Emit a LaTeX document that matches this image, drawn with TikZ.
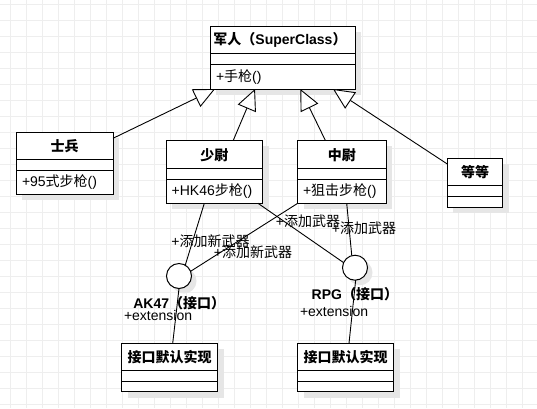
\documentclass[tikz,border=0pt]{standalone}
\usepackage{fontspec}
\setmainfont{Liberation Sans}
\newfontfamily\cjk{Noto Sans CJK SC}
\usetikzlibrary{arrows.meta,calc}
\definecolor{gridc}{HTML}{EEEEEE}
\definecolor{shadc}{HTML}{E6E6E6}
\tikzset{
  cls/.style={draw, fill=white, line width=1pt, inner sep=0pt, outer sep=0pt},
  boxline/.style={line width=1pt},
  inh/.style={line width=0.9pt, -{Triangle[length=21pt,width=19.5pt,fill=white,line width=0.9pt]}},
  conn/.style={line width=0.9pt},
  lbl/.style={inner sep=0pt, outer sep=0pt},
  hdr/.style={inner sep=0pt, outer sep=0pt, font=\fontsize{14}{16}\selectfont\bfseries},
  iface/.style={circle, draw, fill=white, minimum size=25pt, inner sep=0pt, outer sep=0pt, line width=1pt},
}
\newcommand\umlbox[7]{%
  \fill[shadc] (#2+6,#3+6) rectangle (#4+6,#5+6);
  \node[cls, minimum width={(#4-#2)*1pt}, minimum height={(#5-#3)*1pt}, anchor=north west] (#1) at (#2,#3) {};
  \draw[boxline] (#1.west |- 0,#6) -- (#1.east |- 0,#6);
  \draw[boxline] (#1.west |- 0,#7) -- (#1.east |- 0,#7);
}
\begin{document}
\begin{tikzpicture}[x=1pt, y=-1pt, font=\fontsize{14}{16}\selectfont]
\useasboundingbox (0,0) rectangle (537,408);
\fill[white] (0,0) rectangle (537,408);
% grid
\foreach \i in {0,...,33} \draw[gridc, line width=1pt] ({10+16.02*\i},0) -- ({10+16.02*\i},408);
\foreach \j in {0,...,25} \draw[gridc, line width=1pt] (0,{4+16.03*\j}) -- (537,{4+16.03*\j});

% boxes
\umlbox{sup}{210}{26}{355}{89}{53.3}{64.3}
\umlbox{sb}{16}{132}{113}{194.3}{159.3}{170.3}
\umlbox{sw}{166}{140.3}{262.7}{203.3}{168.3}{179}
\umlbox{zw}{297.7}{140.3}{386}{203.3}{168.3}{179}
\umlbox{dd}{447.3}{158.3}{502.7}{207}{185.7}{196.7}
\umlbox{im1}{121.7}{343.3}{217.7}{391.7}{370.7}{381.7}
\umlbox{im2}{297.7}{343.3}{393.7}{391.7}{370.7}{381.7}

% interface circles
\fill[shadc] (184,281) circle (12.5);
\fill[shadc] (360,272.7) circle (12.5);
\node[iface] (ak) at (179,276) {};
\node[iface] (rpg) at (355,267.7) {};

% inheritance
\draw[inh] ($(sb.north east)+(0,6.3)$) -- ($(sup.south west)+(5,0)$);
\draw[inh] ($(sw.north west)+(67.3,0)$) -- ($(sup.south west)+(45,0)$);
\draw[inh] ($(zw.north west)+(27.6,0)$) -- ($(sup.south west)+(90.3,0)$);
\draw[inh] ($(dd.north west)+(0,5.7)$) -- ($(sup.south west)+(123,0)$);

% associations
\draw[conn] ($(sw.south west)+(38.3,0)$) -- (ak.60);
\draw[conn] (zw.south west) -- (ak.22);
\draw[conn] ($(sw.south west)+(92,0)$) -- (rpg.156);
\draw[conn] ($(zw.south west)+(49,0)$) -- (rpg.105);
\draw[conn] (ak.south) -- ($(im1.north west)+(51,0)$);
\draw[conn] (rpg.-87) -- ($(im2.north west)+(51.3,0)$);

% headers
\node[hdr] (suph) at (280,40) {{\cjk 军人（}SuperClass{\cjk ）}};
\node[hdr] (sbh) at (64.5,146) {\cjk 士兵};
\node[hdr] (swh) at (214.3,155) {\cjk 少尉};
\node[hdr] (zwh) at (341.8,155) {\cjk 中尉};
\node[hdr] (ddh) at (475,172) {\cjk 等等};
\node[hdr] (im1h) at (169.7,357) {\cjk 接口默认实现};
\node[hdr] (im2h) at (345.7,357) {\cjk 接口默认实现};

% methods
\node[lbl, anchor=west] (supm) at (216,77) {+{\cjk 手枪}()};
\node[lbl, anchor=west] (sbm) at (22,182) {+95{\cjk 式步枪}()};
\node[lbl, anchor=west] (swm) at (171.7,191.5) {+HK46{\cjk 步枪}()};
\node[lbl, anchor=west] (zwm) at (303,191.5) {+{\cjk 狙击步枪}()};

% labels
\node[lbl] (l1) at (210.5,240.7) {+{\cjk 添加新武器}};
\node[lbl] (l2) at (253,251.7) {+{\cjk 添加新武器}};
\node[lbl] (l3) at (308,221.7) {+{\cjk 添加武器}};
\node[lbl] (l4) at (364,228.3) {+{\cjk 添加武器}};
\node[hdr, anchor=west] (akl) at (133.3,303.3) {AK47{\cjk （接口）}};
\node[lbl, anchor=west] (ake) at (124,315.7) {+extension};
\node[hdr, anchor=west] (rpgl) at (311.7,294.3) {RPG{\cjk （接口）}};
\node[lbl, anchor=west] (rpge) at (300,311) {+extension};
\end{tikzpicture}
\end{document}
